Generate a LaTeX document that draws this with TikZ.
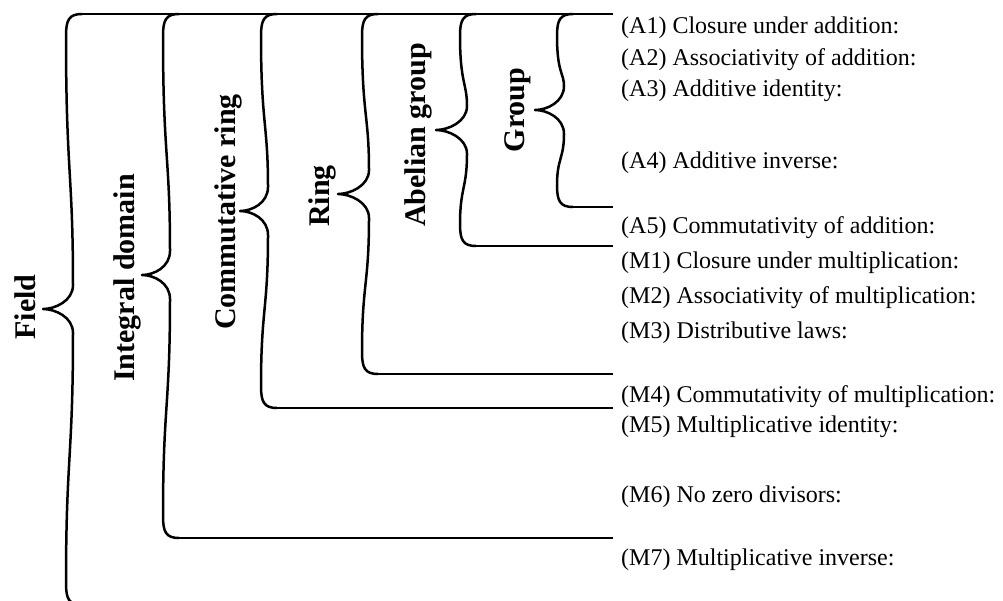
\documentclass[tikz,border=0pt]{standalone}
\usepackage{fontspec}
\setmainfont{Liberation Serif}
\usepackage{tikz}
\usetikzlibrary{positioning, calc}
\tikzstyle{classname} = [rotate=90, inner sep=0pt, font=\fontsize{30}{36}\selectfont\bfseries]
\tikzstyle{axiom} = [anchor=west, inner sep=0pt, font=\fontsize{24}{28}\selectfont]
\tikzstyle{bracket} = [line width=2.5pt, line join=round]
% spine x, tip x, tip y, bottom y
\newcommand{\algbrace}[4]{%
  \draw[bracket] (#1+16,14) .. controls (#1+3,14) and (#1,20) .. (#1,36)
    .. controls (#1,{(36+#3)/2}) and (#1+7,{(36+#3)/2}) .. (#1+7,#3-24)
    .. controls (#1+7,#3-8) and (#2+12,#3) .. (#2,#3)
    .. controls (#2+12,#3) and (#1+7,#3+8) .. (#1+7,#3+24)
    .. controls (#1+7,{(#3+#4)/2}) and (#1,{(#3+#4)/2}) .. (#1,#4-22)
    .. controls (#1,#4-6) and (#1+3,#4) .. (#1+16,#4);}

\begin{document}
\begin{tikzpicture}[x=1pt, y=-1pt]
  \useasboundingbox (0,0) rectangle (1003,600);

  % axioms
  \node[axiom] (a1) at (621,28) {(A1) Closure under addition:};
  \node[axiom] (a2) at (621,60) {(A2) Associativity of addition:};
  \node[axiom] (a3) at (621,91) {(A3) Additive identity:};
  \node[axiom] (a4) at (621,163) {(A4) Additive inverse:};
  \node[axiom] (a5) at (621,228) {(A5) Commutativity of addition:};
  \node[axiom] (m1) at (621,263) {(M1) Closure under multiplication:};
  \node[axiom] (m2) at (621,298) {(M2) Associativity of multiplication:};
  \node[axiom] (m3) at (621,333) {(M3) Distributive laws:};
  \node[axiom] (m4) at (621,397) {(M4) Commutativity of multiplication:};
  \node[axiom] (m5) at (621,427) {(M5) Multiplicative identity:};
  \node[axiom] (m6) at (621,497) {(M6) No zero divisors:};
  \node[axiom] (m7) at (621,560) {(M7) Multiplicative inverse:};

  % structures
  \node[classname] (field) at (25,307) {Field};
  \node[classname] (intdom) at (127,278) {Integral domain};
  \node[classname] (commring) at (228,212) {Commutative ring};
  \node[classname] (ring) at (322,196) {Ring};
  \node[classname] (abelian) at (418,135) {Abelian group};
  \node[classname] (group) at (518,110) {Group};

  % braces
  \algbrace{66}{43}{309}{605}
  \algbrace{163}{142}{275}{538}
  \algbrace{261}{240}{211}{408}
  \algbrace{362}{338}{194}{374}
  \algbrace{460}{436}{130}{246}
  \algbrace{557}{535}{110}{207}

  \draw[bracket] (82,14) -- (613,14);
  \draw[bracket] (179,538) -- (613,538);
  \draw[bracket] (277,408) -- (613,408);
  \draw[bracket] (378,374) -- (613,374);
  \draw[bracket] (476,246) -- (613,246);
  \draw[bracket] (573,207) -- (613,207);
\end{tikzpicture}
\end{document}
